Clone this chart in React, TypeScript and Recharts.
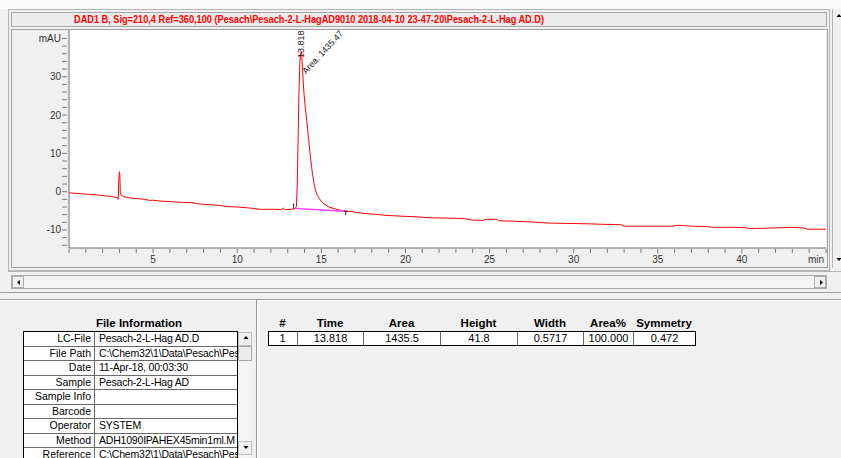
import React from 'react';
import { LineChart, Line, XAxis, YAxis, CartesianGrid, ReferenceDot } from 'recharts';

// chromatogram trace (time in min, signal in mAU)
const timeMin = [
  0.0, 0.6, 1.2, 1.8, 2.4, 2.86, 2.93, 2.96, 2.99, 3.02, 3.05, 3.1, 3.25, 3.6, 4.0, 4.5, 4.8, 4.95,
  5.3, 6.0, 6.8, 7.4, 7.7, 8.3, 9.0, 9.4, 10.0, 10.6, 11.4, 12.2, 12.6, 12.75, 12.85, 13.2, 13.45,
  13.52, 13.57, 13.62, 13.67, 13.72, 13.77, 13.818, 13.86, 13.9, 13.96, 14.05, 14.14, 14.26, 14.36,
  14.48, 14.62, 14.74, 14.86, 15.05, 15.25, 15.5, 15.75, 16.1, 16.44, 16.8, 17.2, 17.6, 18.2, 18.9,
  19.8, 20.8, 21.4, 22.5, 23.5, 23.9, 24.6, 24.8, 25.4, 25.6, 26.4, 27.5, 28.6, 29.8, 31.0, 31.6,
  32.8, 33.0, 34.0, 35.0, 35.9, 36.1, 36.4, 37.0, 37.9, 38.2, 39.4, 40.2, 40.4, 40.8, 41.6, 42.4,
  42.9, 43.7, 43.9, 45.0,
];
const signalMau = [
  -0.3, -0.5, -0.7, -0.9, -1.2, -1.5, -2.0, 3.0, 5.2, 4.8, -0.2, -0.9, -1.3, -1.6, -1.8, -2.0, -2.3, -2.2,
  -2.4, -2.6, -2.8, -2.9, -3.2, -3.4, -3.6, -3.9, -4.0, -4.2, -4.6, -4.6, -4.7, -4.3, -4.7, -4.6, -4.4,
  -3.8, 2.0, 14.0, 26.0, 33.5, 36.0, 36.6, 34.0, 30.5, 26.1, 21.8, 18.3, 13.1, 8.7,
  4.4, 0.9, -0.7, -1.7, -2.8, -3.5, -4.1, -4.4, -4.8, -5.1, -5.2, -5.5, -5.7, -5.9, -6.2,
  -6.4, -6.6, -6.8, -6.9, -7.0, -7.4, -7.5, -7.2, -7.2, -7.6, -7.7, -7.9, -8.2, -8.3, -8.4, -8.5,
  -8.6, -9.0, -9.0, -9.0, -9.0, -8.8, -8.8, -9.0, -9.1, -9.3, -9.3, -9.4, -9.6, -9.6, -9.5, -9.4,
  -9.3, -9.5, -9.8, -9.8,
];

// integration baseline of the peak
const baseTime = [13.47, 16.45];
const baseMau = [-4.4, -5.1];

const peakTime = 13.818;
const peakTop = 36.6;
const peakArea = '1435.47';

const xMajor = [5, 10, 15, 20, 25, 30, 35, 40];
const xTicks = Array.from({ length: 46 }, (_, i) => i);
const yTicks = Array.from({ length: 28 }, (_, i) => -14 + i * 2);

const title =
  'DAD1 B, Sig=210,4 Ref=360,100 (Pesach\\Pesach-2-L-HagAD9010 2018-04-10 23-47-20\\Pesach-2-L-Hag AD.D)';

const fileLabels = ['LC-File', 'File Path', 'Date', 'Sample', 'Sample Info', 'Barcode', 'Operator', 'Method', 'Reference'];
const fileValues = [
  'Pesach-2-L-Hag AD.D',
  'C:\\Chem32\\1\\Data\\Pesach\\Pesach',
  '11-Apr-18, 00:03:30',
  'Pesach-2-L-Hag AD',
  '',
  '',
  'SYSTEM',
  'ADH1090IPAHEX45min1ml.M',
  'C:\\Chem32\\1\\Data\\Pesach\\Pesach',
];

const peakCols = ['#', 'Time', 'Area', 'Height', 'Width', 'Area%', 'Symmetry'];
const peakRow = ['1', '13.818', '1435.5', '41.8', '0.5717', '100.000', '0.472'];
const peakColEdges = [268, 297, 363, 440, 517, 583, 633, 695];

const chartData = timeMin.map((t, i) => ({ t, v: signalMau[i] }));
const baseData = baseTime.map((t, i) => ({ t, v: baseMau[i] }));

const FONT = '"Liberation Sans", Arial, sans-serif';

const XTick = (props: any) => {
  const { x, y, payload } = props;
  const v = payload.value;
  const label = v === 45 ? 'min' : xMajor.includes(v) ? String(v) : '';
  return (
    <g>
      <line x1={x} x2={x} y1={y + 1} y2={y + 5} stroke="#7a7a7a" />
      {label && (
        <text x={v === 45 ? x - 2 : x} y={y + 15} textAnchor={v === 45 ? 'end' : 'middle'} fontSize={10} fill="#333" fontFamily={FONT}>
          {label}
        </text>
      )}
    </g>
  );
};

const YTick = (props: any) => {
  const { x, y, payload } = props;
  const v = payload.value;
  const label = v === 40 ? 'mAU' : v % 10 === 0 ? String(v) : '';
  return (
    <g>
      <line x1={x - 7} x2={x - 2} y1={y} y2={y} stroke="#7a7a7a" />
      {label && (
        <text x={x - 8} y={y + 3.5} textAnchor="end" fontSize={10} fill="#333" fontFamily={FONT}>
          {label}
        </text>
      )}
    </g>
  );
};

const PeakLabel = (props: any) => {
  const { cx, cy } = props;
  const tx = cx + 3;
  const ty = cy + 6.5;
  const ax = cx + 4.5;
  const ay = cy + 23;
  return (
    <g fontFamily={FONT} fill="#222">
      <text x={tx} y={ty} fontSize={9} transform={`rotate(-90, ${tx}, ${ty})`}>
        {String(peakTime)}
      </text>
      <text x={ax} y={ay} fontSize={8.8} transform={`rotate(-47, ${ax}, ${ay})`}>
        {`Area: ${peakArea}`}
      </text>
    </g>
  );
};

const BaseDot = (props: any) => {
  const { cx, cy, index } = props;
  if (index === 0) {
    return <line key="b0" x1={cx - 2} x2={cx - 2} y1={cy - 5} y2={cy} stroke="#222" />;
  }
  return (
    <g key="b1">
      <line x1={cx - 2} x2={cx + 2} y1={cy} y2={cy} stroke="#222" />
      <line x1={cx} x2={cx} y1={cy} y2={cy + 4} stroke="#222" />
    </g>
  );
};

const box = (left: number, top: number, width: number, height: number, extra: React.CSSProperties = {}): React.CSSProperties => ({
  position: 'absolute',
  left,
  top,
  width,
  height,
  boxSizing: 'border-box',
  ...extra,
});

const Arrow = ({ dir }: { dir: 'l' | 'r' | 'u' | 'd' }) => {
  const pts = {
    l: '6,3 3,5.5 6,8',
    r: '4,3 7,5.5 4,8',
    u: '2.5,6 5,3 7.5,6',
    d: '2.5,4 5,7 7.5,4',
  }[dir];
  return (
    <svg width={10} height={11} style={{ display: 'block' }}>
      <polygon points={pts} fill="#000" />
    </svg>
  );
};

const App = () => {
  const rowH = 14.5;
  return (
    <div style={{ position: 'absolute', left: 0, top: 0, width: 841, height: 458, background: '#f0f0f0', overflow: 'hidden', fontFamily: FONT }}>
      <div style={box(0, 0, 841, 9, { background: '#fafafa' })} />
      {/* chart window */}
      <div style={box(8, 9, 822, 262, { border: '1px solid #b4b4b4' })} />
      <div style={box(11, 12, 816, 15, { border: '1px solid #a8a8a8', background: '#ececec' })} />
      <svg style={{ position: 'absolute', left: 0, top: 12 }} width={841} height={15}>
        <text x={74} y={11} fontSize={10} fontWeight="bold" fill="#ff0000" fontFamily={FONT} textLength={470} lengthAdjust="spacingAndGlyphs">
          {title}
        </text>
      </svg>
      <div style={box(11, 29, 817, 239, { border: '1px solid #a0a0a0' })} />
      <div style={{ position: 'absolute', left: 12, top: 30 }}>
        <LineChart width={815} height={237} data={chartData} margin={{ top: 0, right: 1, bottom: 0, left: 0 }}>
          <CartesianGrid fill="#ffffff" horizontal={false} vertical={false} />
          <XAxis
            type="number"
            dataKey="t"
            domain={[0, 45]}
            ticks={xTicks}
            interval={0}
            height={19}
            tickSize={0}
            tickMargin={0}
            tickLine={false}
            tick={<XTick />}
            axisLine={{ stroke: '#6a6a6a' }}
            allowDataOverflow
          />
          <YAxis
            type="number"
            domain={[-14.7, 42.2]}
            ticks={yTicks}
            interval={0}
            width={57}
            tickSize={0}
            tickMargin={0}
            tickLine={false}
            tick={<YTick />}
            axisLine={{ stroke: '#6a6a6a' }}
            allowDataOverflow
          />
          <Line type="linear" dataKey="v" stroke="#ff0000" strokeWidth={1} dot={false} isAnimationActive={false} />
          <Line
            type="linear"
            data={baseData}
            dataKey="v"
            stroke="#ff44ff"
            strokeWidth={1.5}
            dot={(p: any) => <BaseDot {...p} />}
            isAnimationActive={false}
          />
          <ReferenceDot x={peakTime} y={peakTop} r={0} ifOverflow="visible" shape={(p: any) => <PeakLabel {...p} />} />
        </LineChart>
      </div>
      {/* right strip */}
      <div style={box(829, 9, 4, 259, { borderLeft: '1px solid #b4b4b4', borderRight: '1px solid #b4b4b4' })} />
      <div style={box(834, 11, 9, 11, {})}>
        <Arrow dir="u" />
      </div>
      <div style={box(834, 254, 9, 11, {})}>
        <Arrow dir="d" />
      </div>
      {/* horizontal scrollbar */}
      <div style={box(8, 271, 833, 1, { background: '#b4b4b4' })} />
      <div style={box(11, 275, 816, 14, { border: '1px solid #a8a8a8', background: '#f4f4f4' })} />
      <div style={box(12, 276, 12, 12, { border: '1px solid #b0b0b0', background: '#f0f0f0', paddingLeft: 1 })}>
        <Arrow dir="l" />
      </div>
      <div style={box(814, 276, 12, 12, { border: '1px solid #b0b0b0', background: '#f0f0f0', paddingLeft: 1 })}>
        <Arrow dir="r" />
      </div>
      <div style={box(0, 292, 841, 1, { background: '#a0a0a0' })} />
      <div style={box(0, 299, 841, 2, { borderTop: '1px solid #9a9a9a', borderBottom: '1px solid #ffffff' })} />
      <div style={box(256, 300, 2, 158, { borderLeft: '1px solid #9a9a9a', borderRight: '1px solid #ffffff' })} />

      {/* file information */}
      <div style={{ position: 'absolute', left: 23, width: 232, top: 317, textAlign: 'center', fontWeight: 'bold', fontSize: 11.5, color: '#000' }}>
        File Information
      </div>
      <div style={box(23, 331, 215, 140, { border: '1px solid #000', borderBottom: 'none', background: '#ffffff' })}>
        {fileLabels.map((lab, i) => (
          <div
            key={lab}
            style={{
              position: 'absolute',
              left: 0,
              top: i * rowH,
              width: 213,
              height: rowH,
              borderBottom: '1px solid #6a6a6a',
              boxSizing: 'border-box',
              fontSize: 10.5,
              lineHeight: `${rowH - 1}px`,
              color: '#000',
            }}
          >
            <div style={{ position: 'absolute', left: 0, width: 71, top: 0, textAlign: 'right', paddingRight: 3, boxSizing: 'border-box', whiteSpace: 'nowrap', overflow: 'hidden', height: rowH - 1, borderRight: '1px solid #6a6a6a' }}>
              {lab}
            </div>
            <div style={{ position: 'absolute', left: 75, width: 138, top: 0, whiteSpace: 'nowrap', overflow: 'hidden', height: rowH - 1, letterSpacing: -0.2 }}>
              {fileValues[i]}
            </div>
          </div>
        ))}
      </div>
      <div style={box(238, 331, 14, 127, { background: '#f4f4f4' })} />
      <div style={box(238, 332, 14, 14, { border: '1px solid #c0c0c0', background: '#f0f0f0', paddingLeft: 2 })}>
        <Arrow dir="u" />
      </div>
      <div style={box(238, 346, 14, 15, { border: '1px solid #a8a8a8', background: '#ececec' })} />
      <div style={box(238, 441, 14, 14, { border: '1px solid #c0c0c0', background: '#f0f0f0', paddingLeft: 2 })}>
        <Arrow dir="d" />
      </div>

      {/* peak table */}
      {peakCols.map((c, i) => (
        <div
          key={c}
          style={{
            position: 'absolute',
            left: peakColEdges[i],
            width: peakColEdges[i + 1] - peakColEdges[i],
            top: 317,
            textAlign: 'center',
            fontWeight: 'bold',
            fontSize: 11.5,
            color: '#000',
          }}
        >
          {c}
        </div>
      ))}
      <div style={box(268, 331, 428, 15, { border: '1px solid #000', background: '#ffffff' })} />
      {peakRow.map((c, i) => (
        <div
          key={i}
          style={{
            position: 'absolute',
            left: peakColEdges[i],
            width: peakColEdges[i + 1] - peakColEdges[i],
            top: 332,
            height: 13,
            lineHeight: '13px',
            textAlign: 'center',
            fontSize: 11,
            color: '#000',
            boxSizing: 'border-box',
            borderLeft: i > 0 ? '1px solid #6a6a6a' : 'none',
          }}
        >
          {c}
        </div>
      ))}
    </div>
  );
};

export default App;
